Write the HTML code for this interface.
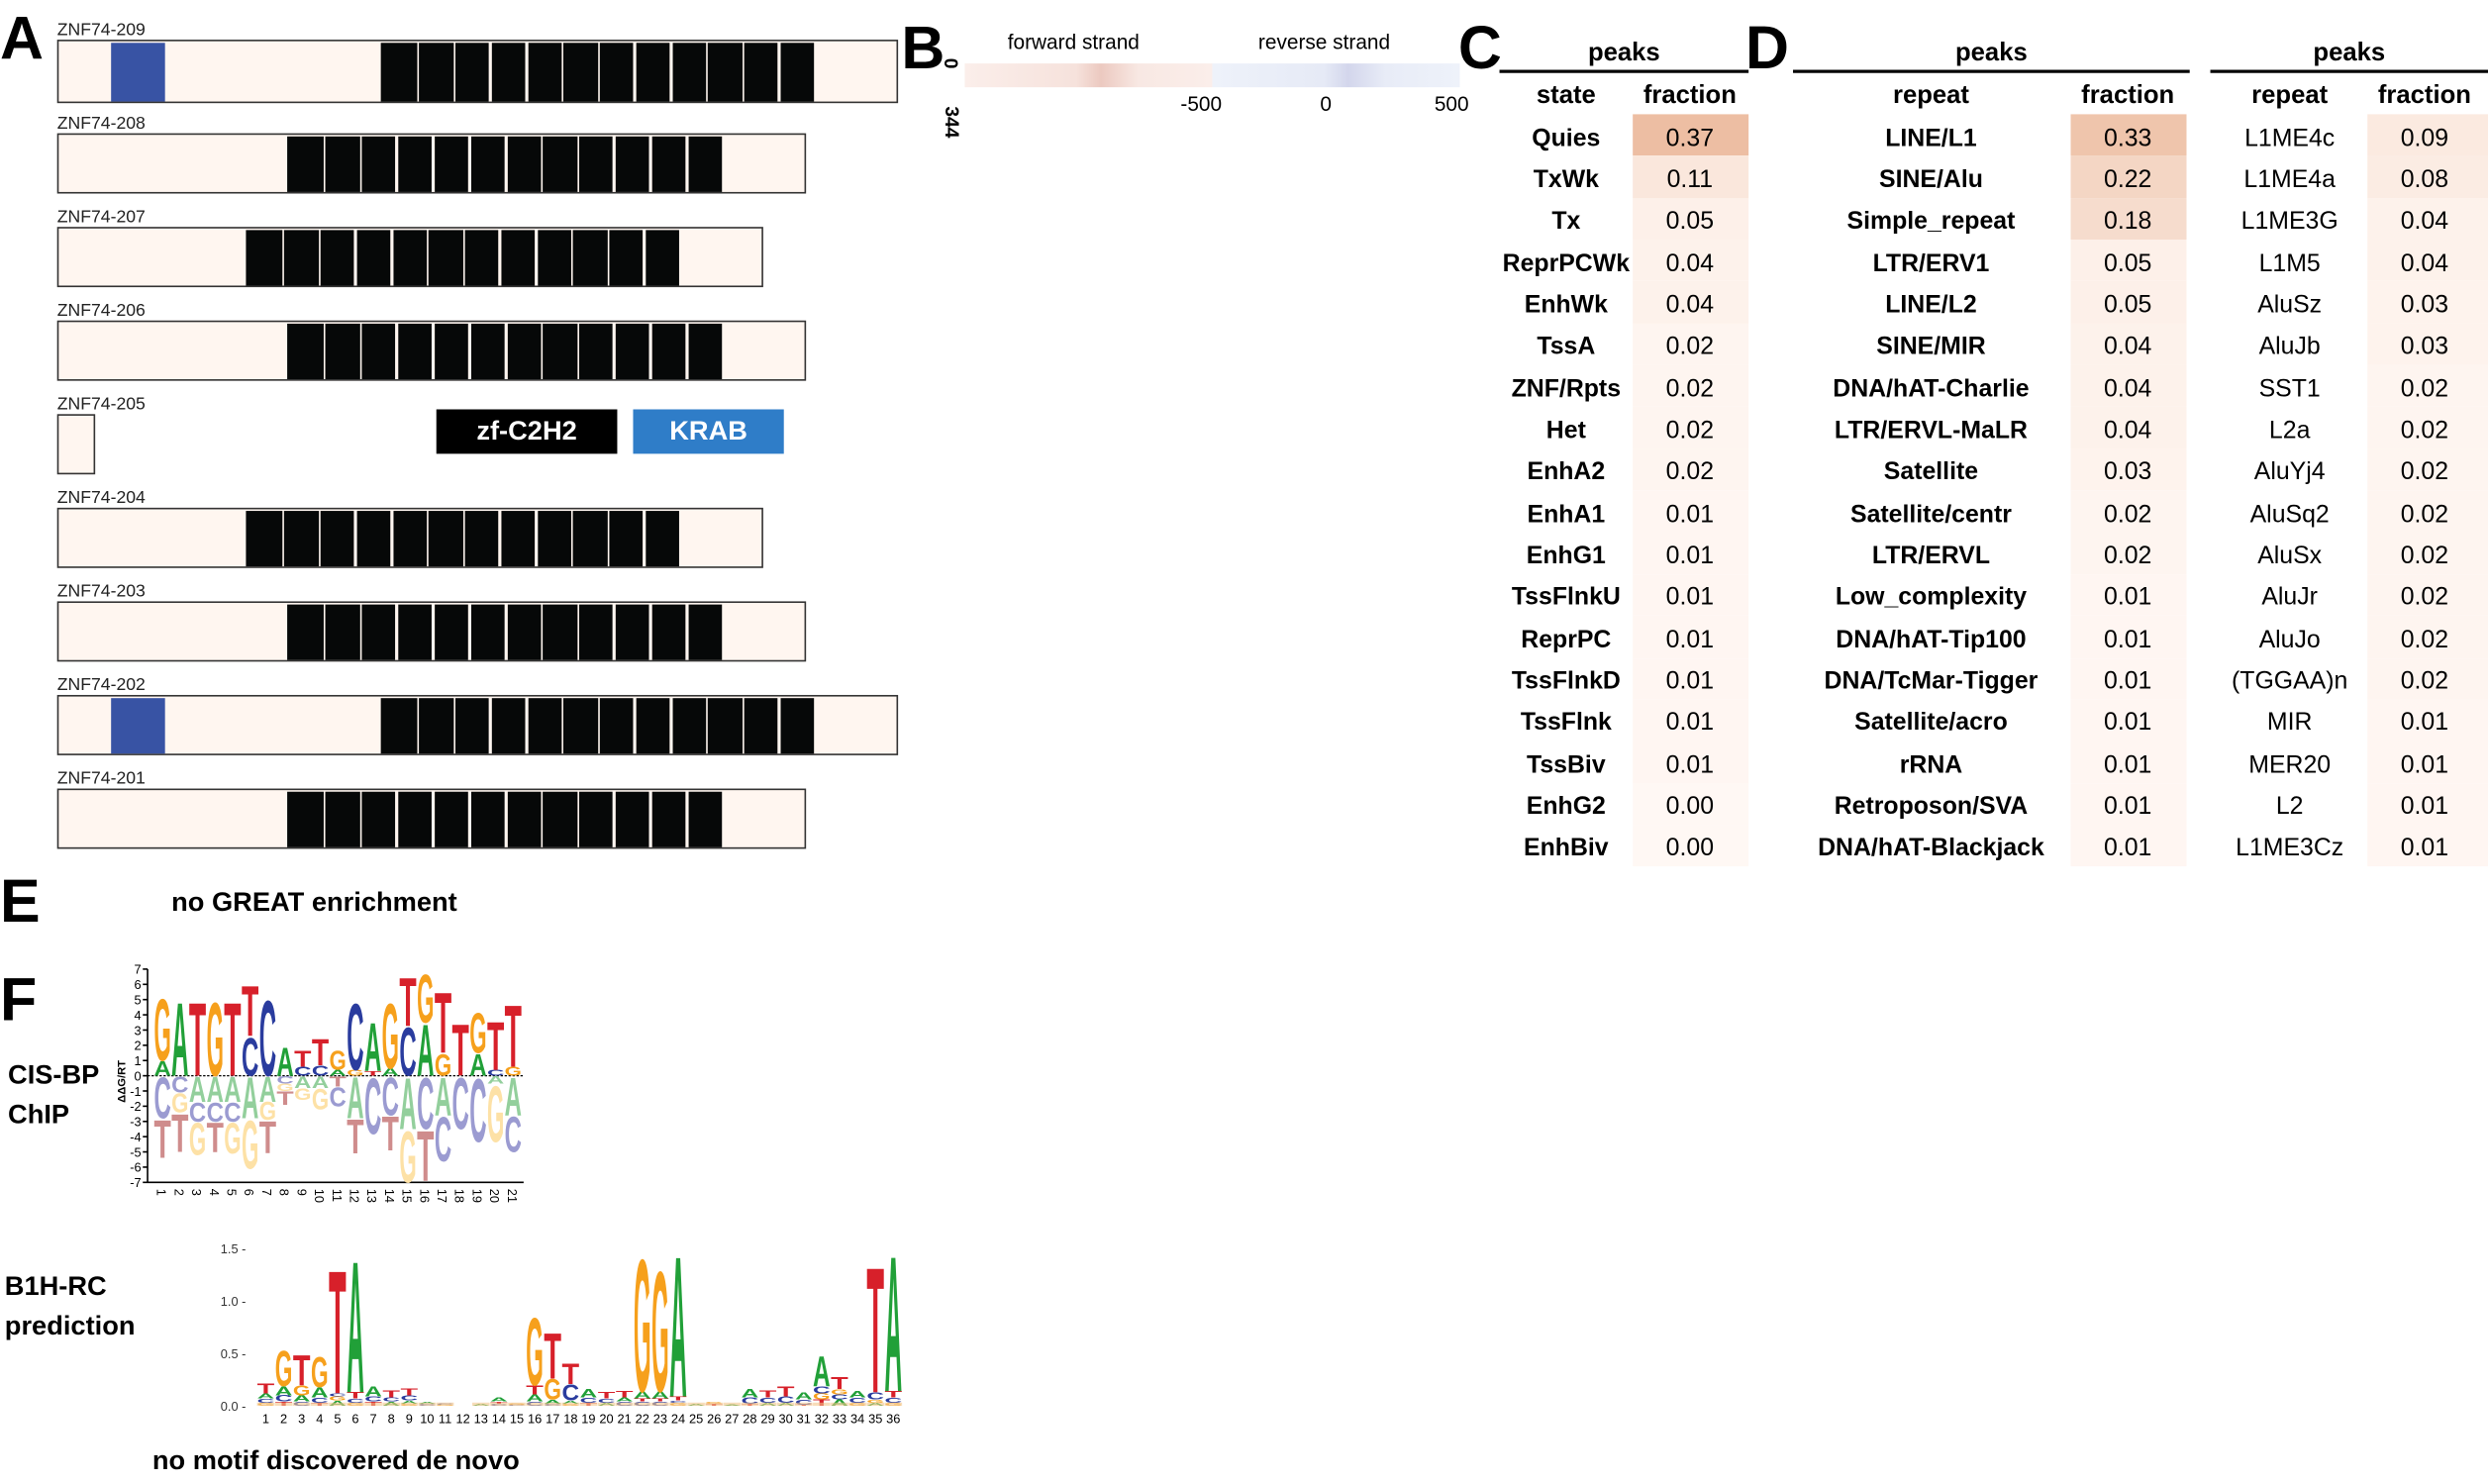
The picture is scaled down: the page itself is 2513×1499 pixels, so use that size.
<!DOCTYPE html>
<html><head><meta charset="utf-8">
<style>
html,body{margin:0;padding:0;background:#fff;}
#root{position:relative;width:1568px;height:935px;transform:scale(1.60268);transform-origin:0 0;font-family:"Liberation Sans",sans-serif;overflow:hidden;}
.abs{position:absolute;white-space:nowrap;}
.big{font-weight:bold;font-size:38px;line-height:38px;}
</style></head><body>
<div id="root">
<div class="abs big" style="left:0;top:6px">A</div>
<div class="abs big" style="left:568px;top:12px">B</div>
<div class="abs big" style="left:919px;top:12px">C</div>
<div class="abs big" style="left:1100px;top:12px">D</div>
<div class="abs big" style="left:0;top:550px">E</div>
<div class="abs big" style="left:0;top:612px">F</div>

<div class="abs" style="left:275px;top:258px;width:114px;height:28px;background:#000;color:#fff;font-weight:bold;font-size:17px;line-height:28px;text-align:center">zf-C2H2</div>
<div class="abs" style="left:399px;top:258px;width:95px;height:28px;background:#2f7dc8;color:#fff;font-weight:bold;font-size:17px;line-height:28px;text-align:center">KRAB</div>

<div class="abs" style="left:635px;top:19px;font-size:13px">forward strand</div>
<div class="abs" style="left:793px;top:19px;font-size:13px">reverse strand</div>
<div class="abs" style="left:608px;top:40px;width:156px;height:15px;background:linear-gradient(90deg,#fbeeea,#f6e2dc 45%,#ecc9c0 55%,#f8e8e3 70%,#fbeeea)"></div>
<div class="abs" style="left:764px;top:40px;width:156px;height:15px;background:linear-gradient(90deg,#eef2fa,#e6eaf6 45%,#d3d6ec 55%,#e8ecf7 70%,#eef2fa)"></div>
<div class="abs" style="left:596px;top:33px;font-size:12px;font-weight:bold;transform:rotate(90deg)">0</div>
<div class="abs" style="left:590px;top:70px;font-size:12px;font-weight:bold;transform:rotate(90deg)">344</div>
<div class="abs" style="left:744px;top:58px;font-size:13px">-500</div>
<div class="abs" style="left:832px;top:58px;font-size:13px">0</div>
<div class="abs" style="left:904px;top:58px;font-size:13px">500</div>

<div class="abs" style="left:108px;top:559px;font-size:17px;font-weight:bold">no GREAT enrichment</div>
<div class="abs" style="left:5px;top:665px;font-size:17px;font-weight:bold;line-height:25px">CIS-BP<br>ChIP</div>
<div class="abs" style="left:3px;top:798px;font-size:17px;font-weight:bold;line-height:25px">B1H-RC<br>prediction</div>
<div class="abs" style="left:96px;top:911px;font-size:17px;font-weight:bold">no motif discovered de novo</div>

<svg id="logos" class="abs" style="left:0;top:0" width="1568" height="935"></svg>
</div>
<script>
const geneNames=["ZNF74-209","ZNF74-208","ZNF74-207","ZNF74-206","ZNF74-205","ZNF74-204","ZNF74-203","ZNF74-202","ZNF74-201"];
const geneEnds=[566,508,481,508,60,481,508,566,508];
const znfStart=[240,181,155,181,0,155,181,240,181];
const znfEnd=[513,455,428,455,0,428,455,513,455];
const krab=[true,false,false,false,false,false,false,true,false];
const states=["Quies","TxWk","Tx","ReprPCWk","EnhWk","TssA","ZNF/Rpts","Het","EnhA2","EnhA1","EnhG1","TssFlnkU","ReprPC","TssFlnkD","TssFlnk","TssBiv","EnhG2","EnhBiv"];
const stateFrac=[0.37,0.11,0.05,0.04,0.04,0.02,0.02,0.02,0.02,0.01,0.01,0.01,0.01,0.01,0.01,0.01,0.00,0.00];
const repFam=["LINE/L1","SINE/Alu","Simple_repeat","LTR/ERV1","LINE/L2","SINE/MIR","DNA/hAT-Charlie","LTR/ERVL-MaLR","Satellite","Satellite/centr","LTR/ERVL","Low_complexity","DNA/hAT-Tip100","DNA/TcMar-Tigger","Satellite/acro","rRNA","Retroposon/SVA","DNA/hAT-Blackjack"];
const repFamFrac=[0.33,0.22,0.18,0.05,0.05,0.04,0.04,0.04,0.03,0.02,0.02,0.01,0.01,0.01,0.01,0.01,0.01,0.01];
const repName=["L1ME4c","L1ME4a","L1ME3G","L1M5","AluSz","AluJb","SST1","L2a","AluYj4","AluSq2","AluSx","AluJr","AluJo","(TGGAA)n","MIR","MER20","L2","L1ME3Cz"];
const repNameFrac=[0.09,0.08,0.04,0.04,0.03,0.03,0.02,0.02,0.02,0.02,0.02,0.02,0.02,0.02,0.01,0.01,0.01,0.01];
const cisPos=[
 [["A",1.0],["G",4.2]],[["A",5.0]],[["T",5.0]],[["G",5.0]],[["T",5.0]],[["C",2.6],["T",3.4]],[["C",5.1]],[["A",1.9]],
 [["C",0.6],["T",1.1]],[["C",0.7],["T",1.8]],[["A",0.4],["G",1.3]],[["G",0.4],["C",4.5]],[["T",0.3],["A",3.3]],[["A",0.5],["G",4.4]],
 [["C",3.3],["T",3.3]],[["A",3.5],["G",3.3]],[["G",1.5],["T",4.1]],[["T",3.5]],[["A",1.5],["G",2.7]],[["C",0.4],["T",3.3]],[["G",0.6],["T",4.2]]];
const cisNeg=[
 [["C",2.8],["T",2.6]],[["C",1.1],["G",1.3],["T",2.6]],[["A",1.7],["C",1.3],["G",2.2]],[["A",1.7],["C",1.3],["T",2.0]],[["A",1.7],["C",1.3],["G",2.1]],
 [["A",2.8],["G",3.3]],[["A",1.7],["G",1.2],["T",2.2]],[["C",0.5],["G",0.5],["T",0.9]],[["A",0.8],["G",0.8]],[["A",0.8],["G",1.4]],
 [["T",0.7],["C",1.3]],[["A",2.8],["T",2.3]],[["C",3.8]],[["C",2.6],["T",2.3]],[["A",3.5],["G",3.5]],[["C",3.5],["T",3.4]],
 [["A",2.6],["C",3.0]],[["C",3.5]],[["C",4.3]],[["A",0.5],["G",3.8]],[["A",2.6],["C",2.4]]];
const cisTicks=[7,6,5,4,3,2,1,0,-1,-2,-3,-4,-5,-6,-7];
const b1hPos=[
 [["G",.03],["C",.04],["A",.05],["T",.1]],[["T",.04],["C",.06],["A",.09],["G",.35]],[["C",.04],["A",.06],["G",.1],["T",.3]],[["T",.03],["C",.05],["A",.1],["G",.3]],
 [["A",.05],["G",.04],["C",.03],["T",1.22]],[["G",.03],["C",.04],["T",.06],["A",1.3]],[["T",.04],["C",.05],["A",.1]],[["A",.04],["C",.04],["T",.07]],
 [["G",.02],["A",.03],["C",.05],["T",.07]],[["C",.02],["A",.02]],[["G",.01],["C",.01]],[],[["A",.02]],[["C",.02],["T",.02],["A",.04]],[["C",.01],["G",.01]],
 [["C",.04],["A",.07],["T",.09],["G",.67]],[["C",.02],["A",.04],["G",.2],["T",.45]],[["G",.02],["A",.03],["C",.16],["T",.2]],[["T",.03],["C",.05],["A",.08]],
 [["A",.03],["C",.04],["T",.06]],[["C",.04],["A",.04],["T",.06]],[["C",.04],["T",.03],["A",.07],["G",1.31]],[["C",.04],["T",.03],["A",.07],["G",1.19]],
 [["G",.03],["C",.02],["T",.04],["A",1.39]],[["A",.02]],[["T",.02],["G",.02]],[["A",.01]],[["T",.02],["C",.06],["A",.08]],[["A",.03],["C",.05],["T",.07]],
 [["A",.03],["C",.06],["T",.1]],[["T",.01],["C",.05],["A",.07]],[["T",.06],["G",.06],["C",.07],["A",.3]],[["A",.06],["C",.05],["G",.05],["T",.12]],
 [["G",.03],["C",.05],["A",.06]],[["A",.03],["G",.03],["C",.07],["T",1.24]],[["G",.03],["C",.05],["T",.06],["A",1.34]]];
const b1hTicks=[0.0,0.5,1.0,1.5];

const root=document.getElementById('root');
function div(css,txt){const d=document.createElement('div');d.className='abs';d.style.cssText=css;if(txt!==undefined)d.textContent=txt;root.appendChild(d);return d;}

const rowTop=[25,84,143,202,261,320,379,438,497];
geneNames.forEach((g,i)=>{
  const y=rowTop[i], h=(i==0?40:38);
  const l=div(`left:36px;top:${y-12}px;font-size:11px;color:#222`,g);
  
  
  const b=div(`left:36px;top:${y}px;width:${geneEnds[i]-36}px;height:${h}px;background:#fff6f0;border-top:1.5px solid #333;border-bottom:1.5px solid #333;border-left:1px solid #333;border-right:1px solid #333;box-sizing:border-box`);
  
  
  if(krab[i]){const k=div(`left:70px;top:${y+1.5}px;width:34px;height:${h-3}px;background:#3853a4`);
    
    }
  if(znfEnd[i]>0){const n=12, w=(znfEnd[i]-znfStart[i])/n;
    for(let j=0;j<n;j++){const z=div(`left:${znfStart[i]+j*w+(j?1.5:0)}px;top:${y+1.5}px;width:${w-(j?1.5:0)}px;height:${h-3}px;background:#060808`);
      
      }}
});

function col(v){const t=Math.min(v/0.5,1);return `rgb(${Math.round(255-(255-230)*t)},${Math.round(248-(248-170)*t)},${Math.round(244-(244-135)*t)})`;}
const rowY=i=>72+i*26.35;
function table(x0,x1,names,vals,nc,fc,bx0,bx1,hdr,bold){
  const h=div(`left:${x0}px;top:25px;width:${x1-x0}px;text-align:center;font-size:16px;font-weight:bold`,'peaks');
  
  
  const u=div(`left:${x0}px;top:44px;width:${x1-x0}px;height:1.5px;background:#000`);
  
  
  const h1=div(`left:${nc-80}px;top:52px;width:160px;text-align:center;font-size:16px;font-weight:bold`,hdr);
  
  
  const h2=div(`left:${fc-50}px;top:52px;width:100px;text-align:center;font-size:16px;font-weight:bold`,'fraction');
  
  
  names.forEach((n,i)=>{
    const y=rowY(i);
    const c=div(`left:${bx0}px;top:${y}px;width:${bx1-bx0}px;height:26.4px;background:${col(vals[i])}`);
    
    
    const a=div(`left:${nc-90}px;top:${y+6.5}px;width:180px;text-align:center;font-size:15.5px;${bold?'font-weight:bold':''}`,n);
    
    
    const b=div(`left:${fc-40}px;top:${y+6.5}px;width:80px;text-align:center;font-size:15.5px`,vals[i].toFixed(2));
    
    
  });
}
table(945,1102,states,stateFrac,987,1065,1029,1102,'state',true);
table(1130,1380,repFam,repFamFrac,1217,1341,1305,1378,'repeat',true);
table(1393,1568,repName,repNameFrac,1443,1528,1492,1568,'repeat',false);

const svg=document.getElementById('logos');const NS='http://www.w3.org/2000/svg';
const C1={A:'#21a038',C:'#2a3c9e',G:'#f6a01c',T:'#d7202a'};
const C2={A:'#93cf9c',C:'#9b9bd1',G:'#fde1a6',T:'#cf8c8c'};
function el(t,a){const e=document.createElementNS(NS,t);for(const k in a)e.setAttribute(k,a[k]);svg.appendChild(e);return e;}
function letter(L,x,yb,w,h,c){if(h<=0.3)return;const t=el('text',{x:0,y:0,'font-size':10,'font-weight':'bold','font-family':'Liberation Sans, sans-serif',fill:c,textLength:7,lengthAdjust:'spacingAndGlyphs',transform:`translate(${x},${yb}) scale(${w/7},${h/7.25})`});t.textContent=L;
  
  }
const cx=i=>97+i*11.05, cy=v=>678-v*9.6, cw=10.8;
el('line',{x1:93,y1:cy(7),x2:93,y2:cy(-7),stroke:'#000','stroke-width':1});
el('line',{x1:93,y1:cy(-7),x2:330,y2:cy(-7),stroke:'#000','stroke-width':1});
el('line',{x1:93,y1:cy(0),x2:330,y2:cy(0),stroke:'#000','stroke-width':0.8,'stroke-dasharray':'1.5,1'});
cisTicks.forEach(v=>{el('line',{x1:90,y1:cy(v),x2:93,y2:cy(v),stroke:'#000'});
  const t=el('text',{x:89,y:cy(v)+3,'font-size':8,'text-anchor':'end','font-family':'Liberation Sans, sans-serif'});t.textContent=v;
  
  });
const yt=el('text',{x:0,y:0,'font-size':7,'font-weight':'bold','font-family':'Liberation Sans, sans-serif',transform:`translate(79,695) rotate(-90)`});yt.textContent='ΔΔG/RT';


cisPos.forEach((st,i)=>{let b=0;st.forEach(([L,h])=>{letter(L,cx(i),cy(b),cw,h*9.6,C1[L]);b+=h;});
  const t=el('text',{x:0,y:0,'font-size':8,'font-family':'Liberation Sans, sans-serif',transform:`translate(${cx(i)+2},${cy(-7)+4}) rotate(90)`});t.textContent=i+1;
  
  });
cisNeg.forEach((st,i)=>{let b=0;st.forEach(([L,h])=>{b-=h;letter(L,cx(i),cy(b),cw,h*9.6,C2[L]);});});
const bx=i=>162+i*11.3, by=v=>886-v*66, bw=11;
b1hTicks.forEach(v=>{const t=el('text',{x:155,y:by(v)+3,'font-size':8,'text-anchor':'end','font-family':'Liberation Sans, sans-serif',fill:'#333'});t.textContent=v.toFixed(1)+' -';
  
  });
b1hPos.forEach((st,i)=>{let b=0;st.forEach(([L,h])=>{letter(L,bx(i),by(b),bw,h*66,C1[L]);b+=h;});
  if(st.length){const r=el('rect',{x:bx(i),y:by(0)-2,width:bw,height:2,fill:'#f2c58a',opacity:0.6});
  
  }
  const t=el('text',{x:bx(i)+bw/2,y:897,'font-size':8,'text-anchor':'middle','font-family':'Liberation Sans, sans-serif'});t.textContent=i+1;
  
  });
</script>
</body></html>
